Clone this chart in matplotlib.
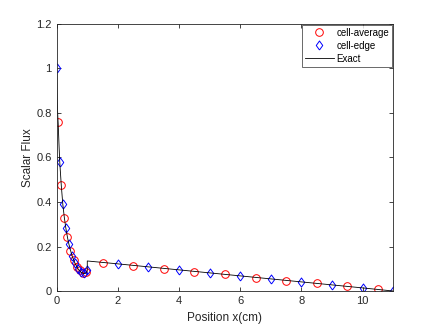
import matplotlib
matplotlib.use("Agg")
import matplotlib.pyplot as plt

plt.rcParams['font.family'] = ['Liberation Sans', 'DejaVu Sans']

# cell-average values (cell centres)
x_avg = [0.05, 0.15, 0.25, 0.35, 0.45, 0.55, 0.65, 0.75, 0.85, 0.95,
         1.5, 2.5, 3.5, 4.5, 5.5, 6.5, 7.5, 8.5, 9.5, 10.5]
y_avg = [0.76, 0.475, 0.33, 0.243, 0.181, 0.139, 0.109, 0.093, 0.082, 0.085,
         0.124, 0.114, 0.100, 0.087, 0.075, 0.060, 0.046, 0.034, 0.021, 0.008]

# cell-edge values
x_edge = [0.0, 0.1, 0.2, 0.3, 0.4, 0.5, 0.6, 0.7, 0.8, 0.9, 1.0,
          2, 3, 4, 5, 6, 7, 8, 9, 10, 11]
y_edge = [1.0, 0.58, 0.39, 0.282, 0.21, 0.159, 0.124, 0.099, 0.084, 0.079, 0.094,
          0.121, 0.108, 0.094, 0.081, 0.067, 0.053, 0.040, 0.028, 0.015, 0.0]

# exact solution
x_exact = [0.0, 0.01, 0.02, 0.035, 0.05, 0.075, 0.1, 0.15, 0.2, 0.25, 0.3, 0.35, 0.4,
           0.5, 0.6, 0.7, 0.8, 0.9, 0.95, 1.0, 1.0, 2, 4, 6, 8, 10, 11]
y_exact = [1.0, 0.9, 0.84, 0.79, 0.75, 0.66, 0.58, 0.475, 0.39, 0.33, 0.282, 0.243, 0.21,
           0.159, 0.124, 0.099, 0.084, 0.078, 0.08, 0.09, 0.135, 0.122, 0.095, 0.068,
           0.041, 0.014, 0.0]

fig = plt.figure(figsize=(4.36, 3.27), dpi=100)
ax = fig.add_axes([0.13, 0.11, 0.772, 0.817])

# diamond a bit narrower than tall, like matlab's
diamond = [(0, -1), (0.72, 0), (0, 1), (-0.72, 0), (0, -1)]

ax.plot(x_avg, y_avg, 'o', color='red', mfc='none', ms=5.5, mew=0.7, label='cell-average')
ax.plot(x_edge, y_edge, marker=diamond, ls='none', color='blue', mfc='none', ms=6.5,
        mew=0.7, label='cell-edge')
ax.plot(x_exact, y_exact, '-', color='black', lw=0.6, label='Exact')

ax.set_xlim(0, 11)
ax.set_ylim(0, 1.2)
ax.set_xticks([0, 2, 4, 6, 8, 10])
ax.set_yticks([0, 0.2, 0.4, 0.6, 0.8, 1.0, 1.2])
ax.set_yticklabels(['0', '0.2', '0.4', '0.6', '0.8', '1', '1.2'])

dark = (0.15, 0.15, 0.15)
for s in ax.spines.values():
    s.set_color(dark)
    s.set_linewidth(0.6)
ax.tick_params(direction='in', top=True, right=True, length=3, width=0.6,
               colors=dark, labelsize=8)
ax.set_xlabel('Position x(cm)', fontsize=8.5, color=dark)
ax.set_ylabel('Scalar Flux', fontsize=8.5, color=dark)
ax.xaxis.set_label_coords(0.5, -0.08)
ax.yaxis.set_label_coords(-0.066, 0.5)

leg = ax.legend(loc='upper right', fontsize=7, frameon=True, fancybox=False,
                edgecolor=dark, borderaxespad=0.1, handlelength=3.0,
                handletextpad=0.3, labelspacing=0.3, borderpad=0.3)
leg.get_frame().set_linewidth(0.6)

fig.savefig('out.png', dpi=100)
